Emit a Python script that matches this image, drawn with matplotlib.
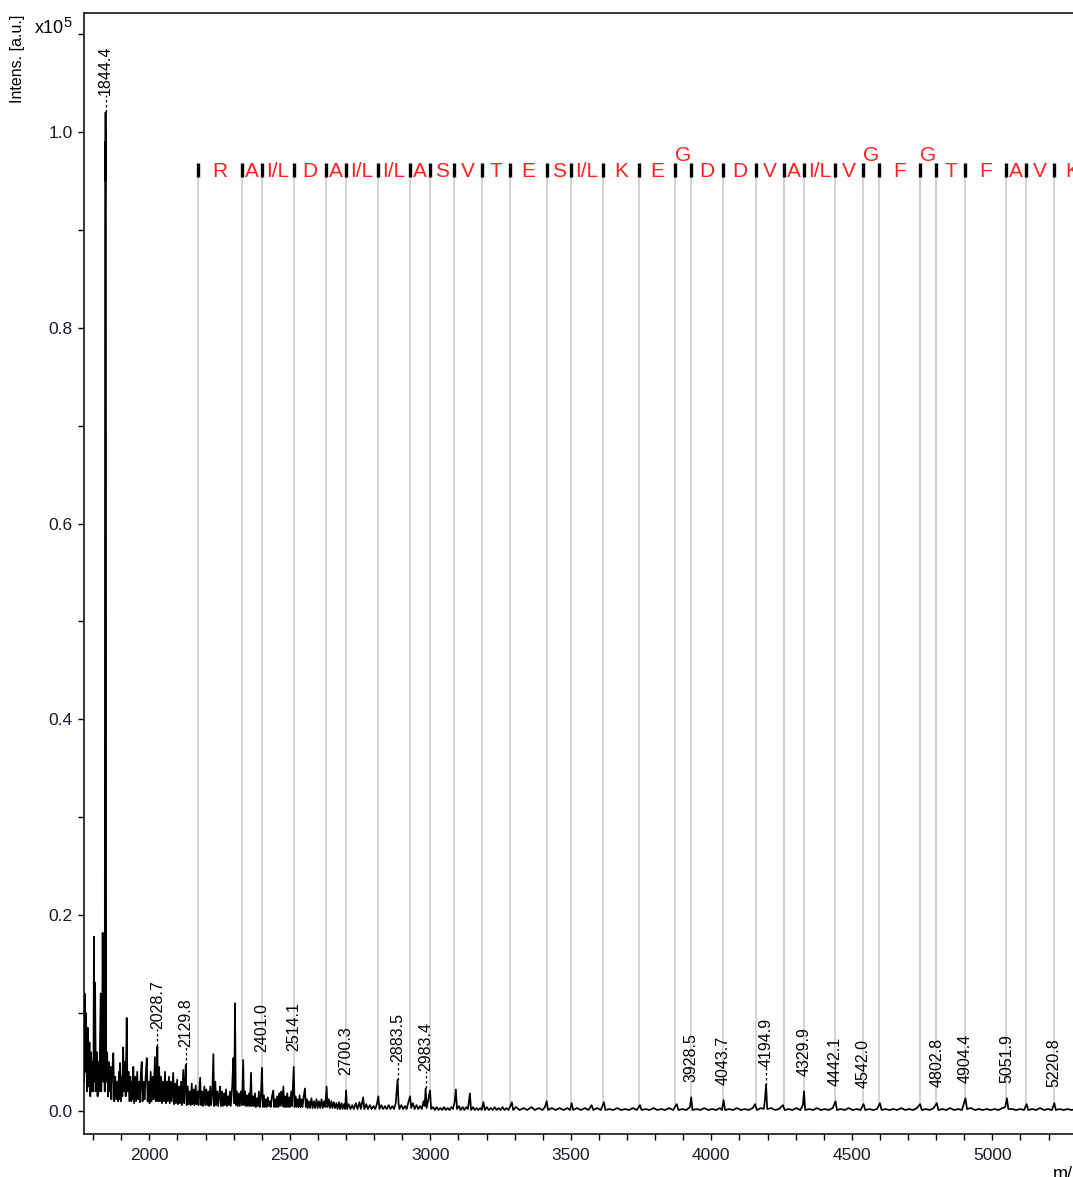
import numpy as np
import matplotlib
matplotlib.use('Agg')
import matplotlib.pyplot as plt
from matplotlib.ticker import MultipleLocator

plt.rcParams['font.family'] = ['Liberation Sans', 'DejaVu Sans']

# 스펙트럼 (m/z, intensity x1e5) - 그림에서 읽은 값
trace_mz = [
    1768, 1770, 1772, 1775, 1778, 1781, 1784, 1787, 1790, 1793, 1796, 1799, 1801, 1803, 1805, 1807,
    1810, 1813, 1816, 1819, 1822, 1825, 1827, 1829, 1832, 1834, 1837, 1840, 1841.5, 1842.3, 1842.8,
    1843.3, 1843.8, 1844.4, 1845.0, 1845.5, 1846.5, 1850, 1853, 1856, 1859,
    1862, 1865, 1868, 1872, 1875, 1879, 1882, 1886, 1889, 1892, 1894, 1896, 1899, 1902, 1904, 1907,
    1910, 1913, 1916, 1919.6, 1922, 1926, 1929, 1933, 1936, 1939, 1941, 1943, 1946, 1950, 1953, 1957,
    1960, 1964, 1967, 1970, 1973, 1976, 1980, 1983, 1987, 1991, 1994, 1998, 2001, 2005, 2008, 2012,
    2015, 2020, 2023, 2026, 2028.7, 2031, 2035, 2038, 2042, 2045, 2049, 2052, 2056, 2059, 2063, 2066,
    2070, 2073, 2077, 2080, 2085, 2088, 2092, 2095, 2099, 2102, 2106, 2109, 2113, 2116, 2121, 2124,
    2127, 2129.8, 2133, 2137, 2140, 2144, 2147, 2151, 2154, 2158, 2161, 2165, 2168, 2172, 2175, 2181,
    2184, 2188, 2191, 2196, 2199,
    2203, 2206, 2210, 2213, 2217, 2220, 2224, 2228, 2231, 2235, 2238, 2242, 2245, 2249, 2252, 2255,
    2259, 2262, 2266, 2269, 2273, 2276, 2280, 2283, 2287, 2290, 2295, 2299, 2302, 2305, 2308, 2312,
    2315, 2319, 2322, 2326, 2330, 2334, 2337, 2341, 2344, 2348, 2351, 2355, 2358, 2362, 2365, 2369,
    2372, 2376, 2379, 2383, 2386, 2390, 2393, 2397, 2401, 2404, 2408, 2411, 2415, 2418, 2422, 2425,
    2429, 2432, 2436, 2441, 2444, 2448, 2451, 2455, 2458, 2462, 2465, 2469, 2473, 2477, 2480, 2484,
    2487, 2491, 2494, 2498, 2501, 2505, 2508, 2514.1, 2517, 2521, 2524, 2528, 2531, 2535, 2538, 2542,
    2545, 2549, 2554, 2557, 2561, 2564, 2568, 2572, 2577, 2581, 2586, 2590, 2595, 2599, 2604, 2608,
    2613, 2617, 2622, 2626, 2631, 2634, 2639, 2643, 2648, 2652, 2657, 2661, 2666, 2670, 2675, 2679,
    2684, 2688, 2693, 2697,
    2700.3, 2704, 2710, 2716, 2722, 2728, 2735, 2741, 2748, 2753, 2761, 2765, 2772, 2778, 2785, 2791,
    2798, 2804, 2810, 2815, 2819, 2826, 2832, 2839, 2845, 2852, 2858, 2865, 2871, 2877, 2883.5, 2887,
    2890, 2897, 2903, 2910, 2916, 2922, 2928, 2932, 2938, 2944, 2951, 2957, 2964, 2970, 2976, 2980,
    2983.4, 2987, 2992, 2999, 3003, 3010, 3016, 3023, 3029, 3036, 3042, 3049, 3055, 3062, 3068, 3075,
    3081, 3087, 3091, 3095, 3102, 3108, 3115, 3121, 3128, 3134, 3141, 3145, 3152, 3158, 3165, 3171,
    3178, 3183, 3189, 3194, 3201, 3208, 3215, 3222, 3229, 3236, 3243, 3250, 3257, 3264, 3271, 3278,
    3285, 3290, 3295,
    3305, 3318, 3332, 3345, 3360, 3372, 3386, 3399, 3408, 3414, 3419, 3432, 3446, 3460, 3474, 3488,
    3497, 3503, 3508, 3522, 3536, 3550, 3563, 3574, 3580, 3594, 3607, 3618, 3623, 3637, 3651, 3665,
    3679, 3693, 3707, 3721, 3735, 3746, 3752, 3766, 3780, 3794, 3808, 3822, 3836, 3850, 3864, 3877,
    3883, 3897, 3911, 3924, 3928.5, 3933, 3947, 3961, 3975, 3989, 4003, 4017, 4031, 4038, 4043.7, 4049,
    4063, 4077, 4091, 4105, 4119, 4133, 4147, 4156, 4162, 4176, 4187, 4191, 4194.9, 4199, 4213, 4227,
    4241, 4255, 4261, 4275, 4289, 4303, 4317, 4326, 4329.9, 4334, 4348, 4362, 4376, 4390, 4404, 4418,
    4432, 4442.1, 4447, 4461, 4475, 4489, 4503, 4517, 4531, 4542, 4548, 4562, 4576, 4590, 4600, 4606,
    4620, 4634, 4648, 4662, 4676, 4690, 4704, 4718, 4732, 4743, 4749, 4763, 4777, 4791, 4802.8, 4808,
    4822, 4836, 4850, 4864, 4878, 4892, 4904.4, 4910, 4924, 4938, 4952, 4966, 4980, 4994, 5008, 5022,
    5036, 5046, 5051.9, 5057, 5071, 5085, 5099, 5113, 5122, 5128, 5142, 5156, 5170, 5184, 5198, 5212,
    5220.8, 5226, 5240, 5254, 5268, 5282, 5296, 5310, 5330, 5350,
]
trace_int = [
    .03, .12, .04, .10, .02, .085, .025, .07, .015, .06, .02, .05, .02, .178, .03, .131,
    .02, .06, .015, .05, .02, .08, .12, .02, .06, .182, .03, .05, .02, .60, .92,
    .99, .95, 1.02, .97, 1.0, .03, .06, .015, .05, .02,
    .045, .012, .04, .059, .01, .035, .012, .03, .01, .04, .012, .049, .01, .035, .015, .065,
    .02, .05, .015, .095, .02, .04, .01, .035, .01, .03, .012, .045, .008, .035, .01, .04,
    .012, .03, .009, .038, .05, .01, .03, .012, .035, .054, .01, .03, .008, .04, .01, .035,
    .012, .055, .01, .03, .066, .01, .045, .01, .035, .008, .03, .01, .04, .008, .03, .01,
    .035, .008, .03, .01, .039, .007, .028, .008, .032, .007, .025, .008, .03, .006, .042, .008,
    .025, .047, .006, .025, .007, .02, .006, .028, .007, .022, .006, .026, .007, .02, .006, .034,
    .006, .02, .005, .025, .006,
    .022, .006, .02, .005, .025, .006, .018, .058, .005, .03, .006, .02, .005, .018, .025, .005,
    .02, .005, .018, .006, .022, .005, .015, .006, .02, .005, .025, .054, .008, .11, .006, .02,
    .005, .018, .005, .02, .006, .052, .006, .02, .005, .016, .005, .018, .005, .039, .005, .015,
    .005, .018, .004, .013, .005, .02, .004, .015, .044, .004, .016, .004, .012, .004, .014, .005,
    .01, .004, .014, .021, .004, .012, .004, .015, .004, .018, .005, .02, .005, .025, .004, .015,
    .004, .018, .004, .014, .004, .02, .005, .045, .004, .015, .004, .012, .004, .016, .004, .012,
    .004, .014, .023, .004, .012, .003, .01, .003, .013, .003, .01, .003, .012, .003, .01, .003,
    .012, .003, .01, .004, .025, .004, .012, .003, .01, .003, .009, .003, .008, .002, .009, .002,
    .008, .002, .007, .002,
    .021, .002, .007, .002, .006, .002, .008, .002, .009, .002, .014, .002, .007, .002, .006, .002,
    .005, .002, .007, .015, .002, .006, .002, .005, .002, .006, .002, .005, .002, .008, .032, .008,
    .002, .006, .002, .005, .002, .009, .015, .003, .008, .002, .006, .002, .005, .002, .01, .005,
    .023, .003, .01, .021, .002, .004, .001, .004, .001, .003, .001, .004, .001, .003, .001, .004,
    .002, .01, .022, .002, .005, .001, .004, .001, .004, .002, .018, .001, .004, .001, .003, .001,
    .003, .001, .009, .001, .004, .001, .003, .001, .004, .001, .003, .001, .004, .001, .003, .001,
    .005, .009, .001,
    .004, .001, .003, .001, .004, .001, .003, .001, .004, .01, .001, .003, .001, .003, .001, .003,
    .001, .008, .001, .003, .001, .003, .001, .006, .001, .003, .001, .009, .001, .002, .001, .003,
    .001, .002, .001, .003, .001, .006, .001, .002, .001, .003, .001, .002, .001, .003, .001, .007,
    .001, .002, .001, .004, .014, .001, .002, .001, .003, .001, .002, .001, .003, .001, .011, .001,
    .002, .001, .003, .001, .002, .001, .003, .007, .001, .003, .002, .012, .027, .002, .003, .001,
    .002, .006, .001, .002, .001, .003, .001, .006, .02, .001, .002, .001, .003, .001, .002, .001,
    .003, .01, .001, .002, .001, .003, .001, .002, .001, .007, .001, .002, .001, .002, .008, .001,
    .002, .001, .002, .001, .003, .001, .002, .001, .003, .007, .001, .002, .001, .003, .008, .001,
    .002, .001, .003, .001, .002, .001, .013, .002, .003, .001, .002, .001, .002, .001, .002, .001,
    .003, .004, .013, .002, .002, .001, .002, .001, .007, .001, .002, .001, .003, .001, .002, .001,
    .008, .001, .002, .001, .002, .001, .002, .001, .002, .001,
]

# 피크 라벨
label_mz = [1844.4, 2028.7, 2129.8, 2401.0, 2514.1, 2700.3, 2883.5, 2983.4, 3928.5,
            4043.7, 4194.9, 4329.9, 4442.1, 4542.0, 4802.8, 4904.4, 5051.9, 5220.8]
label_leader = [True, True, True, False, False, False, True, True, False,
                False, True, False, False, False, False, False, False, False]

# 서열 (b/y ladder)
seq_start = 2174.0
residues = ['R', 'A', 'I/L', 'D', 'A', 'I/L', 'I/L', 'A', 'S', 'V', 'T', 'E', 'S', 'I/L', 'K', 'E',
            'G', 'D', 'D', 'V', 'A', 'I/L', 'V', 'G', 'F', 'G', 'T', 'F', 'A', 'V', 'K']
residue_mass = {'G': 57.02146, 'A': 71.03711, 'S': 87.03203, 'V': 99.06841, 'T': 101.04768,
                'I/L': 113.08406, 'D': 115.02694, 'K': 128.09496, 'E': 129.04259,
                'F': 147.06841, 'R': 156.10111}

mz = np.array(trace_mz)
inten = np.array(trace_int)

W, H = 1073, 1177
fig = plt.figure(figsize=(W / 100, H / 100), dpi=100)
ax_l, ax_r, ax_t, ax_b = 84, 1090, 13, 1134
ax = fig.add_axes([ax_l / W, 1 - ax_b / H, (ax_r - ax_l) / W, (ax_b - ax_t) / H])

px_per_da = 0.281
x0 = 2000 - (149.3 - ax_l) / px_per_da
ax.set_xlim(x0, x0 + (ax_r - ax_l) / px_per_da)
ax.set_ylim(-0.0235, 1.1215)

ax.plot(mz, inten, color='black', lw=1.25, zorder=3)

# 서열 사다리
ticks = np.concatenate([[seq_start], seq_start + np.cumsum([residue_mass[r] for r in residues])])
y_top, y_bot = 0.968, 0.954
for t in ticks:
    win = inten[(mz > t - 4) & (mz < t + 4)]
    end = max(np.interp(t, mz, inten), win.max() if len(win) else 0)
    ax.plot([t, t], [end, y_bot], color='#c8c8c8', lw=1.1, zorder=1, clip_on=True)
    ax.plot([t, t], [y_bot, y_top], color='black', lw=2.4, zorder=2, clip_on=True,
            solid_capstyle='butt')
for i, r in enumerate(residues):
    mid = (ticks[i] + ticks[i + 1]) / 2
    y = 0.976 if r == 'G' else 0.960
    ax.text(mid, y, r, color='#ff2020', fontsize=15, ha='center', va='center',
            clip_on=True, zorder=4)

# 피크 라벨
for m, lead in zip(label_mz, label_leader):
    top = inten[(mz > m - 3) & (mz < m + 3)].max()
    gap = 0.018 if lead else 0.016
    if lead:
        ax.plot([m, m], [top, top + gap], color='black', lw=0.9, ls=(0, (2, 2)), zorder=3)
    ax.text(m, top + gap, f'{m:.1f}', rotation=90, ha='center', va='bottom',
            fontsize=11.5, color='black', zorder=4)

ax.spines['right'].set_visible(False)
for s in ['left', 'bottom', 'top']:
    ax.spines[s].set_linewidth(1.1)
ax.xaxis.set_major_locator(MultipleLocator(500))
ax.xaxis.set_minor_locator(MultipleLocator(100))
ax.yaxis.set_minor_locator(MultipleLocator(0.1))
ax.set_yticks([0.0, 0.2, 0.4, 0.6, 0.8, 1.0])
ax.set_yticklabels(['0.0', '0.2', '0.4', '0.6', '0.8', '1.0'])
ax.tick_params(which='both', direction='out', length=4, width=1.0, labelsize=12.5,
               labelcolor='#1a1a2a')
ax.tick_params(axis='y', pad=4)
ax.tick_params(axis='x', pad=6)

fig.text(18 / W, 1 - 15 / H, 'Intens. [a.u.]', rotation=90, ha='center', va='top', fontsize=11.5)
fig.text(35 / W, 1 - 33 / H, 'x10', ha='left', va='baseline', fontsize=13)
fig.text(63 / W, 1 - 27 / H, '5', ha='left', va='baseline', fontsize=10.5)
fig.text(1053 / W, 1 - 1166 / H, 'm/z', ha='left', va='top', fontsize=13)

fig.savefig('out.png', dpi=100)
